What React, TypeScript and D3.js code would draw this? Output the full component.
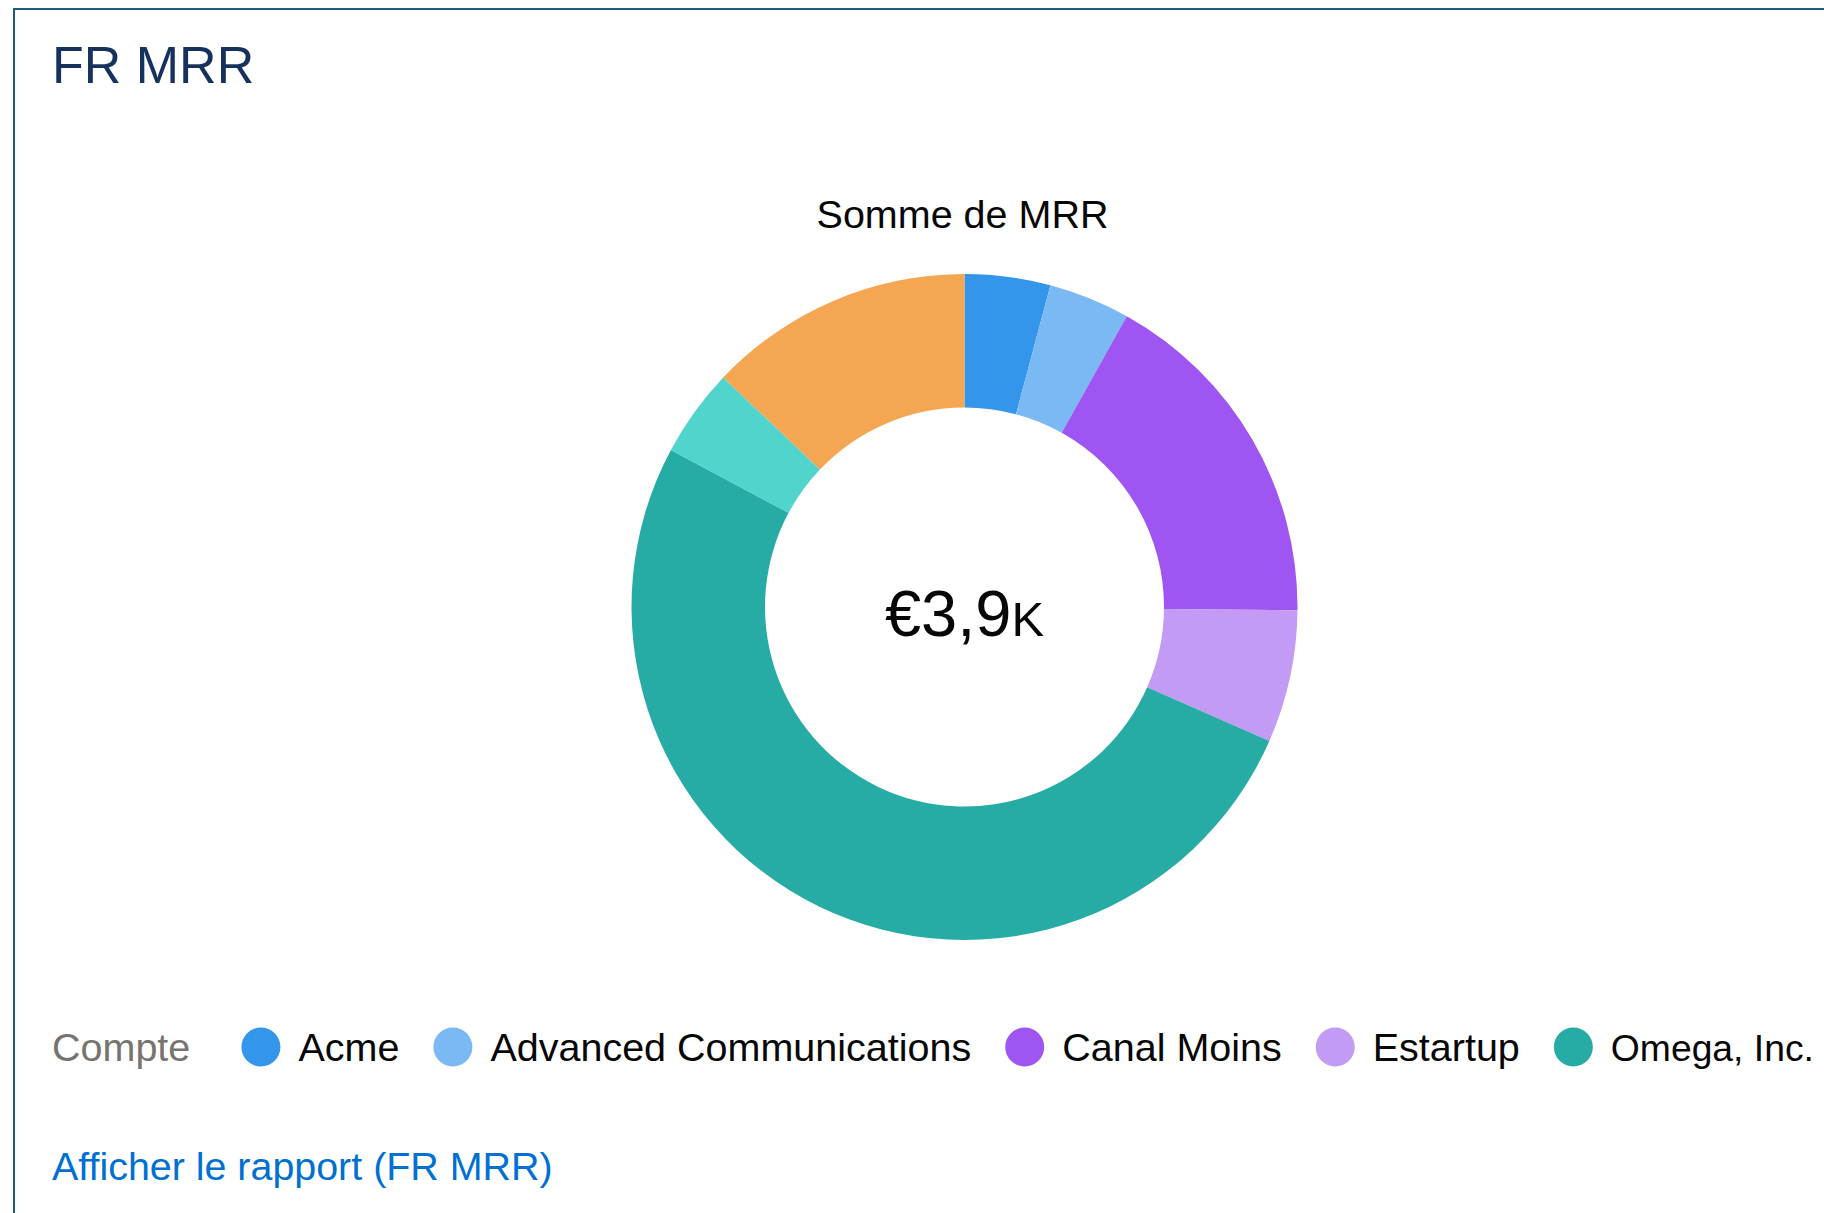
import React from 'react';
import * as d3 from 'd3';

const categories = ['Acme', 'Advanced Communications', 'Canal Moins', 'Estartup', 'Omega, Inc.', 'Autre compte 1', 'Autre compte 2'];
const values = [162, 154, 665, 251, 1998, 167, 503];
const colors = ['#3496EA', '#7AB9F4', '#9E55F2', '#C39AF4', '#27ACA5', '#51D4CC', '#F5A653'];
const titleText = 'FR MRR';
const measureLabel = 'Somme de MRR';
const legendTitle = 'Compte';
const linkText = 'Afficher le rapport (FR MRR)';

const W = 1824;
const H = 1213;
const FONT = "'Liberation Sans', Arial, Helvetica, sans-serif";

function textWidth(t: string, size: number): number {
  const c = document.createElement('canvas');
  const ctx = c.getContext('2d');
  if (!ctx) return t.length * size * 0.55;
  ctx.font = `${size}px ${FONT}`;
  return ctx.measureText(t).width;
}

export default function App() {
  const cx = 964.5;
  const cy = 607;
  const rOuter = 333;
  const rInner = 199.5;

  const data = categories.map((c, i) => ({ name: c, value: values[i], color: colors[i] }));
  const pie = d3.pie<any>().value((d: any) => d.value).sort(null).startAngle(0).endAngle(2 * Math.PI);
  const arc = d3.arc<any>().innerRadius(rInner).outerRadius(rOuter);
  const arcs = pie(data);
  const total = d3.sum(values);
  const totalStr = '€' + (total / 1000).toFixed(1).replace('.', ',');

  const legendSize = 39.5;
  const legendY = 1047;
  let x = 52 + textWidth(legendTitle, legendSize) + 70.6;
  const legendItems = data
    .map((d) => {
      const dotX = x;
      const textX = dotX + 37.5;
      const w = textWidth(d.name, legendSize);
      x = textX + w + 53.5;
      const maxW = W - 10 - textX;
      const size = w > maxW ? (legendSize * maxW) / w : legendSize;
      return { ...d, dotX, textX, size };
    })
    .filter((d) => d.dotX + 20 < W);

  return (
    <div style={{ position: 'absolute', left: 0, top: 0, width: W, height: H, overflow: 'hidden', background: '#fff' }}>
      <svg width={W} height={H} style={{ display: 'block', fontFamily: FONT }}>
        <rect x={0} y={0} width={W} height={H} fill="#fff" />
        <rect x={14} y={9} width={2400} height={2400} fill="none" stroke="#1D5D77" strokeWidth={2} />
        <text x={52} y={83} fontSize={52} fill="#16325C">{titleText}</text>
        <text x={cx - 2} y={228} fontSize={39.5} fill="#080707" textAnchor="middle">{measureLabel}</text>
        <g transform={`translate(${cx},${cy})`}>
          {arcs.map((a, i) => (
            <path key={i} d={arc(a) as string} fill={a.data.color} />
          ))}
          <text x={0} y={29} textAnchor="middle" fill="#080707" fontSize={65}>
            {totalStr}
            <tspan fontSize={49}>K</tspan>
          </text>
        </g>
        <text x={52} y={legendY + 14} fontSize={legendSize} fill="#77746F">{legendTitle}</text>
        {legendItems.map((d, i) => (
          <g key={i}>
            <circle cx={d.dotX} cy={legendY} r={19.5} fill={d.color} />
            <text x={d.textX} y={legendY + 14} fontSize={d.size} fill="#080707">
              {d.name}
            </text>
          </g>
        ))}
        <text x={52} y={1180} fontSize={39.4} fill="#0070D2">{linkText}</text>
      </svg>
    </div>
  );
}
